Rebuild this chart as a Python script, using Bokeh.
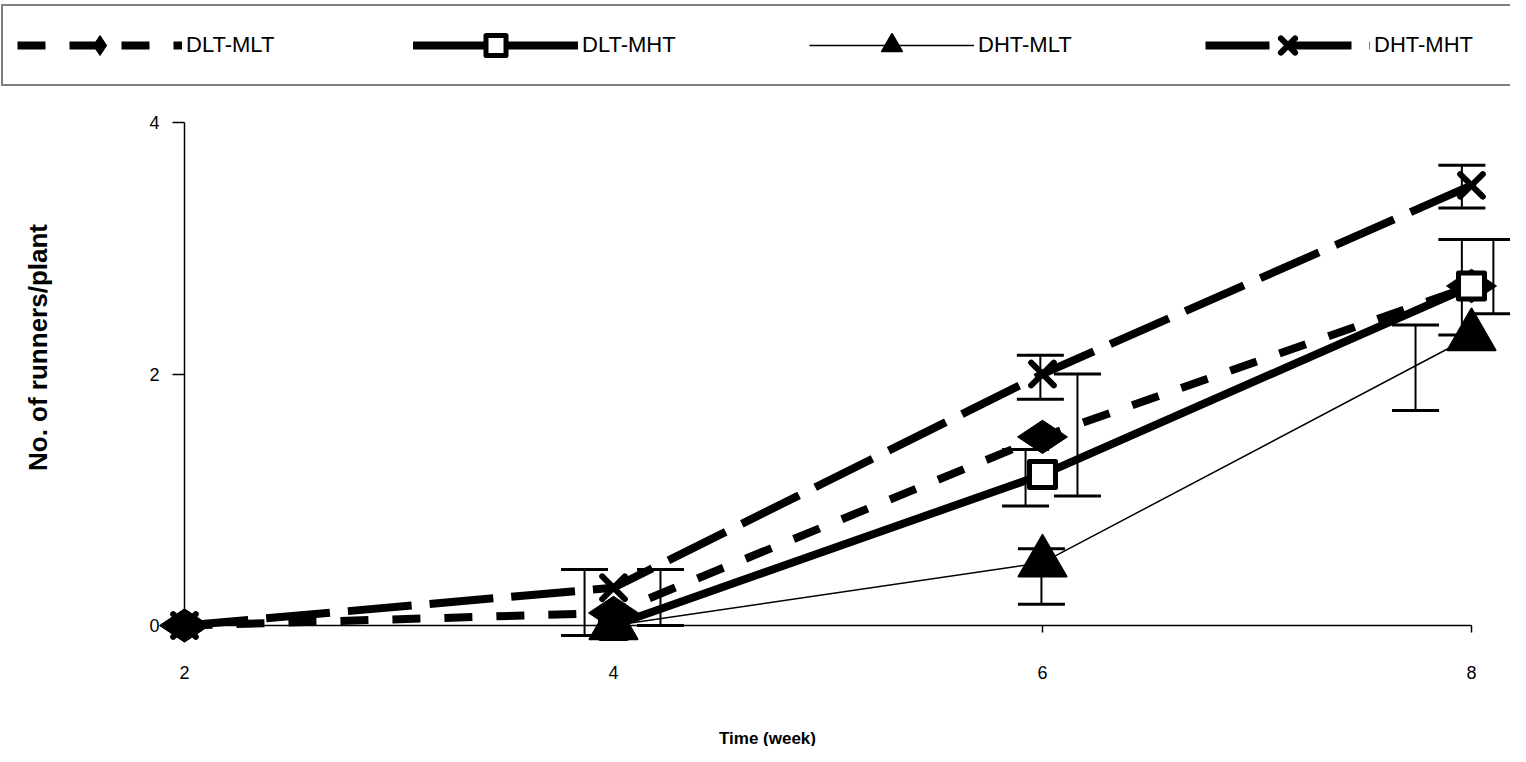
import math
from bokeh.plotting import figure
from bokeh.models import (Range1d, FixedTicker, Legend, LegendItem, Whisker,
                          TeeHead, ColumnDataSource, LinearAxis)
from bokeh.embed import file_html
from bokeh.resources import INLINE

NaN = float("nan")

# ---------------- data ----------------
weeks = [2, 4, 6, 8]
dlt_mlt = [0.0, 0.1, 1.5, 2.7]
dlt_mht = [NaN, 0.0, 1.2, 2.7]
dht_mlt = [NaN, 0.0, 0.5, 2.3]
dht_mht = [0.0, 0.3, 2.0, 3.5]

# error bars as drawn in the chart (position, lower, upper)
err_x = [3.865, 4.219, 5.921, 5.990, 5.995, 6.163, 7.739, 7.955, 7.955, 8.102]
err_lo = [-0.08, 0.00, 0.95, 1.80, 0.17, 1.03, 1.71, 3.32, 2.31, 2.48]
err_hi = [0.445, 0.445, 1.40, 2.15, 0.61, 2.00, 2.39, 3.66, 3.07, 3.07]

x_ticks = [2, 4, 6, 8]
y_ticks = [0, 2, 4]
series_names = ["DLT-MLT", "DLT-MHT", "DHT-MLT", "DHT-MHT"]
x_title = "Time (week)"
y_title = "No. of runners/plant"

FONT = "Liberation Sans"

p = figure(width=1510, height=746, output_backend="svg", toolbar_location=None,
           x_range=Range1d(1.1422, 8.1818), y_range=Range1d(-0.9622, 4.9702),
           min_border_left=0, min_border_right=0, min_border_top=0,
           min_border_bottom=0)
p.xgrid.visible = False
p.ygrid.visible = False
p.outline_line_color = None
p.background_fill_color = "white"
p.border_fill_color = "white"

# main axes
xa = p.xaxis[0]
xa.fixed_location = 0
xa.bounds = (2, 8)
xa.ticker = FixedTicker(ticks=x_ticks)
xa.minor_tick_line_color = None
xa.major_tick_in = 0
xa.major_tick_out = 7
xa.axis_line_width = 1.5
xa.major_tick_line_width = 1.5
xa.major_label_text_font = FONT
xa.major_label_text_font_size = "18px"
xa.major_label_text_color = "black"
xa.major_label_standoff = 33

ya = p.yaxis[0]
ya.fixed_location = 2
ya.bounds = (0, 4)
ya.ticker = FixedTicker(ticks=y_ticks)
ya.minor_tick_line_color = None
ya.major_tick_in = 0
ya.major_tick_out = 12
ya.axis_line_width = 1.5
ya.major_tick_line_width = 1.5
ya.major_label_text_font = FONT
ya.major_label_text_font_size = "18px"
ya.major_label_text_color = "black"
ya.major_label_standoff = 13

# title-only axes (carry the axis titles, positioned like the original)
xt = LinearAxis(fixed_location=0, bounds=(2, 7.436), ticker=FixedTicker(ticks=[]),
                axis_line_color=None, major_tick_line_color=None,
                minor_tick_line_color=None, axis_label=x_title,
                axis_label_text_font=FONT, axis_label_text_font_style="bold",
                axis_label_text_font_size="17px", axis_label_text_color="black",
                axis_label_standoff=103)
p.add_layout(xt, "below")
yt = LinearAxis(fixed_location=2, bounds=(0, 4.42), ticker=FixedTicker(ticks=[]),
                axis_line_color=None, major_tick_line_color=None,
                minor_tick_line_color=None, axis_label=y_title,
                axis_label_text_font=FONT, axis_label_text_font_style="bold",
                axis_label_text_font_size="26px", axis_label_text_color="black",
                axis_label_standoff=132)
p.add_layout(yt, "left")

# error bars
esrc = ColumnDataSource(dict(x=err_x, lo=err_lo, hi=err_hi))
wh = Whisker(base="x", lower="lo", upper="hi", source=esrc, dimension="height",
             line_color="black", line_width=2, level="underlay",
             upper_head=TeeHead(size=47, line_width=3, line_color="black"),
             lower_head=TeeHead(size=47, line_width=3, line_color="black"))
p.add_layout(wh)

# series
l1 = p.line(weeks, dlt_mlt, line_color="black", line_width=8, line_dash="28 24")
l2 = p.line(weeks, dlt_mht, line_color="black", line_width=8, line_cap="round",
            line_join="round")
l3 = p.line(weeks, dht_mlt, line_color="black", line_width=1.5)
l4 = p.line(weeks, dht_mht, line_color="black", line_width=8, line_dash="64 18")

m1 = p.scatter(weeks, dlt_mlt, marker="diamond", size=50, angle=math.pi / 2,
               fill_color="black", line_color="black", line_width=1)
m2 = p.scatter(weeks, dlt_mht, marker="square", size=26, fill_color="white",
               line_color="black", line_width=5, line_join="round")
m3 = p.scatter(weeks, dht_mlt, marker="triangle", size=48, fill_color="black",
               line_color="black", line_width=2, line_join="round")
m4 = p.scatter(weeks, dht_mht, marker="x", size=32, line_color="black",
               line_width=6, line_cap="round")

legend = Legend(items=[LegendItem(label=series_names[0], renderers=[l1, m1]),
                       LegendItem(label=series_names[1], renderers=[l2, m2]),
                       LegendItem(label=series_names[2], renderers=[l3, m3]),
                       LegendItem(label=series_names[3], renderers=[l4, m4])],
                location=(1, 660), orientation="horizontal",
                glyph_width=165, glyph_height=50, label_standoff=4,
                label_width=140, spacing=87, padding=14,
                border_line_color="black", border_line_width=2,
                background_fill_color="white", background_fill_alpha=1,
                label_text_font=FONT, label_text_font_size="22px",
                label_text_color="black")
p.add_layout(legend)

open("out.html", "w").write(file_html(p, INLINE))
